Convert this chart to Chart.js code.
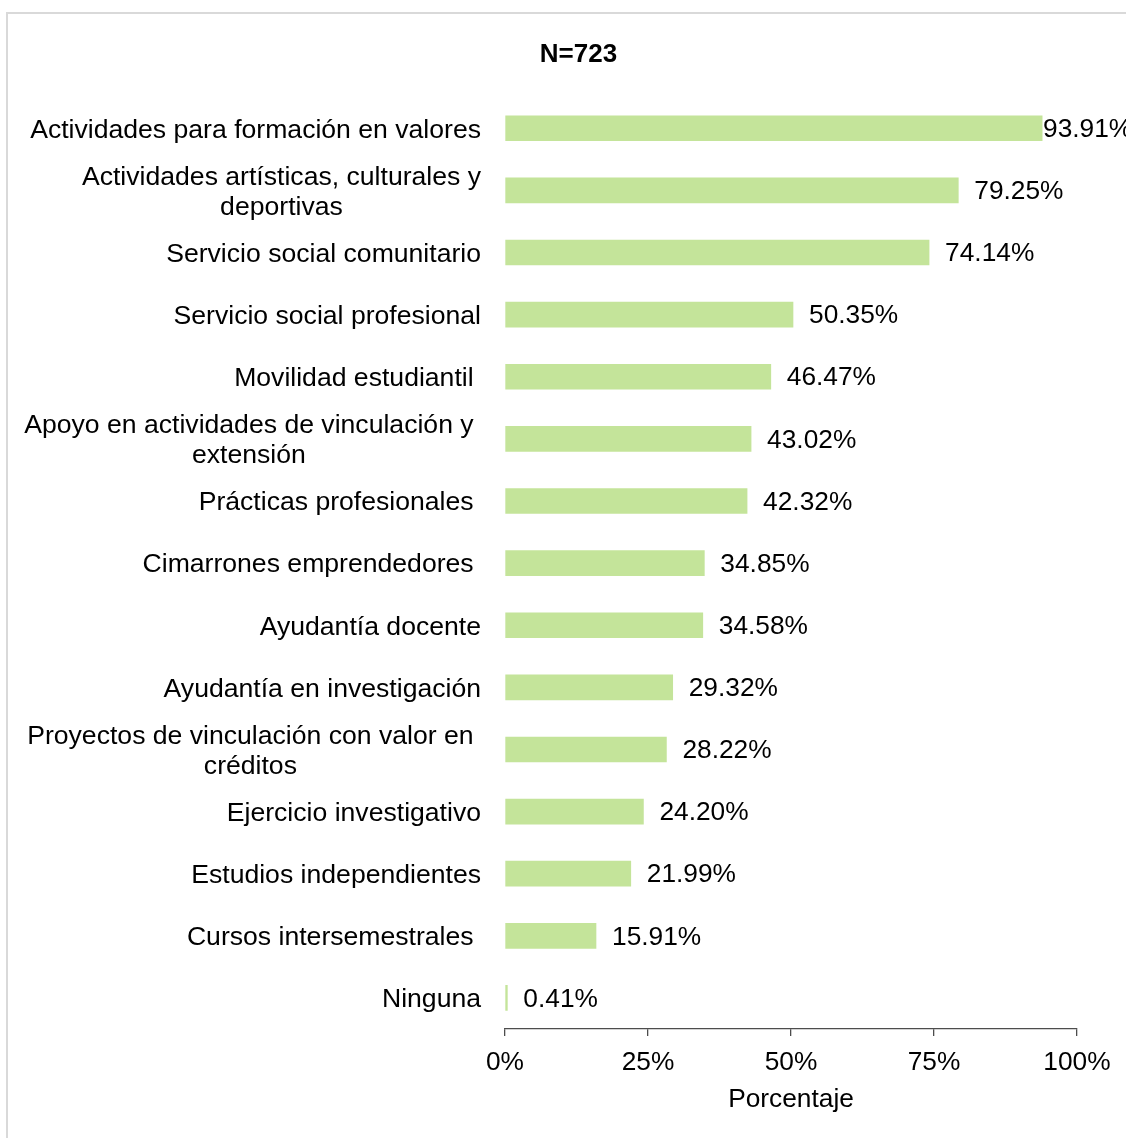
<!DOCTYPE html>
<html>
<head>
<meta charset="utf-8">
<script src="https://cdn.jsdelivr.net/npm/chart.js@4.4.1/dist/chart.umd.min.js"></script>
<style>
  html, body { margin: 0; padding: 0; background: #fff; }
  #wrap { position: relative; width: 1126px; height: 1138px; overflow: hidden; }
  #frame { position: absolute; left: 6px; top: 12px; width: 1200px; height: 1200px;
           border-left: 2px solid #d9d9d9; border-top: 2px solid #d9d9d9; }
  canvas { position: absolute; left: 0; top: 0; }
</style>
</head>
<body>
<div id="wrap">
  <div id="frame"></div>
  <canvas id="c" width="1126" height="1138"></canvas>
</div>
<script>
const chartTitle = 'N=723';
const axisTitle = 'Porcentaje';
const categories = [
  ['Actividades para formación en valores'],
  ['Actividades artísticas, culturales y', 'deportivas'],
  ['Servicio social comunitario'],
  ['Servicio social profesional'],
  ['Movilidad estudiantil '],
  ['Apoyo en actividades de vinculación y ', 'extensión'],
  ['Prácticas profesionales '],
  ['Cimarrones emprendedores '],
  ['Ayudantía docente'],
  ['Ayudantía en investigación'],
  ['Proyectos de vinculación con valor en ', 'créditos'],
  ['Ejercicio investigativo'],
  ['Estudios independientes'],
  ['Cursos intersemestrales '],
  ['Ninguna']
];
const values = [93.91, 79.25, 74.14, 50.35, 46.47, 43.02, 42.32, 34.85, 34.58, 29.32, 28.22, 24.20, 21.99, 15.91, 0.41];
const xTicks = [0, 25, 50, 75, 100];

const FONT = "'Liberation Sans', Arial, sans-serif";
const BAR_COLOR = '#c4e49a';

const yLabelPlugin = {
  id: 'yLabels',
  afterDraw(chart) {
    const ctx = chart.ctx;
    const ys = chart.scales.y;
    const R = chart.chartArea.left - 24;
    ctx.save();
    ctx.font = '26.6px ' + FONT;
    ctx.fillStyle = '#000';
    ctx.textBaseline = 'middle';
    ctx.textAlign = 'center';
    categories.forEach((lines, i) => {
      const cy = ys.getPixelForValue(i) + 2;
      let maxFull = 0, maxTrim = 0, trailOfMax = 0;
      lines.forEach(l => {
        const wf = ctx.measureText(l).width;
        const wt = ctx.measureText(l.trimEnd()).width;
        if (wf > maxFull) { maxFull = wf; trailOfMax = wf - wt; }
        if (wt > maxTrim) maxTrim = wt;
      });
      const right = R - trailOfMax;
      const cx = right - maxTrim / 2;
      const lh = 30;
      const y0 = cy - (lines.length - 1) * lh / 2;
      lines.forEach((l, k) => {
        ctx.fillText(l.trimEnd(), cx, y0 + k * lh);
      });
    });
    ctx.restore();
  }
};

const valueLabelPlugin = {
  id: 'valueLabels',
  afterDatasetsDraw(chart) {
    const ctx = chart.ctx;
    const meta = chart.getDatasetMeta(0);
    ctx.save();
    ctx.font = '26.3px ' + FONT;
    ctx.fillStyle = '#000';
    ctx.textBaseline = 'middle';
    ctx.textAlign = 'left';
    const limit = chart.chartArea.right - 34;
    meta.data.forEach((bar, i) => {
      const txt = values[i].toFixed(2) + '%';
      const x = Math.min(bar.x + 16, limit);
      ctx.fillText(txt, x, bar.y + 1.5);
    });
    ctx.restore();
  }
};

new Chart(document.getElementById('c'), {
  type: 'bar',
  data: {
    labels: categories,
    datasets: [{
      data: values,
      backgroundColor: BAR_COLOR,
      borderWidth: 0,
      barThickness: 25
    }]
  },
  options: {
    indexAxis: 'y',
    responsive: false,
    animation: false,
    layout: { padding: { left: 80, right: 49, top: 0, bottom: 0 } },
    plugins: {
      legend: { display: false },
      tooltip: { enabled: false },
      title: {
        display: true,
        text: chartTitle,
        color: '#000',
        font: { family: FONT, size: 26, weight: 'bold' },
        padding: { top: 39, bottom: 27 }
      }
    },
    scales: {
      x: {
        type: 'linear',
        min: 0,
        max: 100,
        afterBuildTicks(scale) { scale.ticks = xTicks.map(v => ({ value: v })); },
        afterFit(scale) { scale.height = 109; },
        ticks: {
          color: '#000',
          font: { family: FONT, size: 26.3 },
          padding: 11,
          maxRotation: 0,
          callback: v => v + '%'
        },
        grid: {
          display: true,
          drawOnChartArea: false,
          drawTicks: true,
          tickLength: 7,
          tickColor: '#4d4d4d',
          lineWidth: 1.3
        },
        border: { display: true, color: '#4d4d4d', width: 1.3 },
        title: {
          display: true,
          text: axisTitle,
          color: '#000',
          font: { family: FONT, size: 26.3 },
          padding: { top: 0, bottom: 22 }
        }
      },
      y: {
        type: 'category',
        afterFit(scale) { scale.width = 425; },
        ticks: { display: false },
        grid: { display: false, drawTicks: false },
        border: { display: false }
      }
    }
  },
  plugins: [yLabelPlugin, valueLabelPlugin]
});
</script>
</body>
</html>
